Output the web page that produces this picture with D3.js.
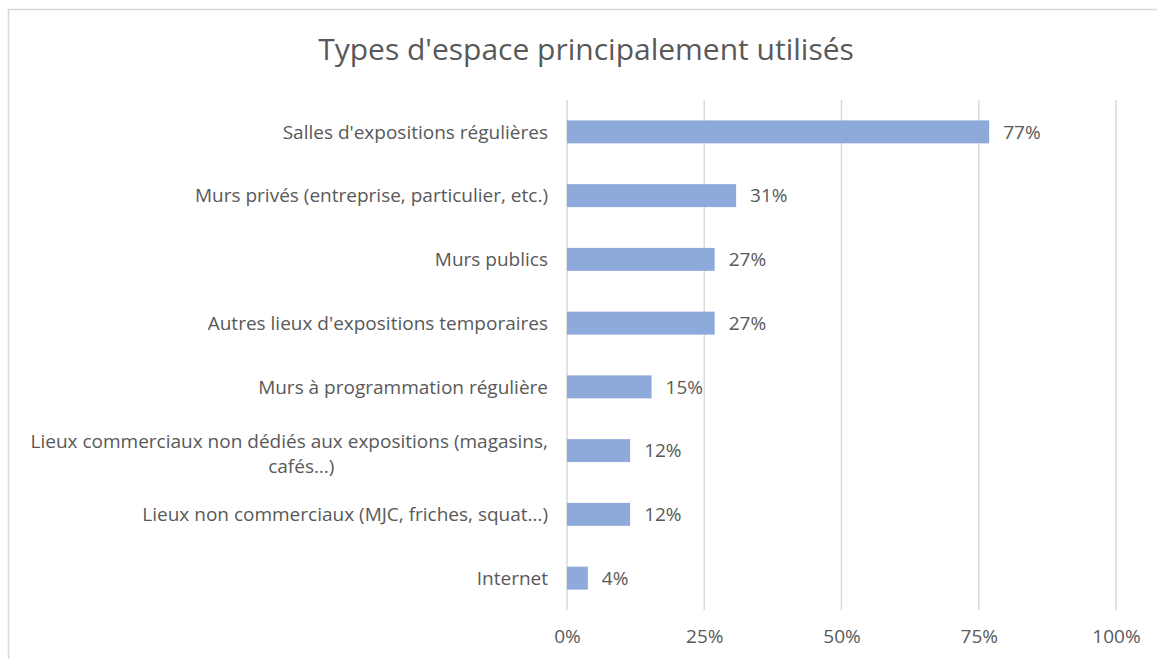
<!DOCTYPE html>
<html><head><meta charset="utf-8">
<script src="https://cdn.jsdelivr.net/npm/d3@7"></script>
<style>body{margin:0;background:#fff;} svg{display:block;}</style>
</head><body>
<svg id="c" width="1157" height="659"></svg>
<script>
const title = "Types d'espace principalement utilisés";
const categories = [
  "Salles d'expositions régulières",
  "Murs privés (entreprise, particulier, etc.)",
  "Murs publics",
  "Autres lieux d'expositions temporaires",
  "Murs à programmation régulière",
  "Lieux commerciaux non dédiés aux expositions (magasins, cafés…)",
  "Lieux non commerciaux (MJC, friches, squat…)",
  "Internet"
];
const values = [76.9, 30.8, 26.9, 26.9, 15.4, 11.5, 11.5, 3.8];
const tickValues = [0, 25, 50, 75, 100];

const svg = d3.select("#c");
const font = "Open Sans, sans-serif";
const txt = "#595959";
const fs = 19;
svg.append("rect").attr("x", 8.5).attr("y", 9.5).attr("width", 1170).attr("height", 670)
  .attr("fill", "#fff").attr("stroke", "#d9d9d9").attr("stroke-width", 1.5);

const x = d3.scaleLinear().domain([0, 100]).range([567, 1116]);
const y = d3.scaleBand().domain(categories).range([100, 610]).paddingInner(0.64).paddingOuter(0.32);

svg.append("text").attr("x", 586).attr("y", 60).attr("text-anchor", "middle")
  .attr("font-family", font).attr("font-size", 30).attr("fill", txt).text(title);

// gridlines
svg.append("g").selectAll("line").data(tickValues).join("line")
  .attr("x1", d => x(d)).attr("x2", d => x(d)).attr("y1", 100).attr("y2", 610)
  .attr("stroke", "#d9d9d9").attr("stroke-width", 1.5);

// x axis labels
const xAxis = d3.axisBottom(x).tickValues(tickValues).tickFormat(d => d + "%").tickSize(0).tickPadding(0);
const gx = svg.append("g").attr("transform", "translate(0,636)").call(xAxis);
gx.select(".domain").remove();
gx.selectAll("text").attr("font-family", font).attr("font-size", fs).attr("fill", txt).attr("dy", "0.35em");

// bars
svg.append("g").selectAll("rect").data(values).join("rect")
  .attr("x", x(0)).attr("y", (d, i) => y(categories[i]))
  .attr("width", d => x(d) - x(0)).attr("height", y.bandwidth())
  .attr("fill", "#8eaadb");

// value labels
svg.append("g").selectAll("text").data(values).join("text")
  .attr("x", d => x(d) + 14).attr("y", (d, i) => y(categories[i]) + y.bandwidth() / 2)
  .attr("dy", "0.35em").attr("font-family", font).attr("font-size", fs).attr("fill", txt)
  .text(d => Math.round(d) + "%");

// category labels
const gl = svg.append("g");
categories.forEach((c, i) => {
  const cy = y(c) + y.bandwidth() / 2;
  if (c.length > 50) {
    const parts = ["Lieux commerciaux non dédiés aux expositions (magasins,", "cafés…)"];
    const t1 = gl.append("text").attr("x", 548).attr("y", cy - 9).attr("dy", "0.35em")
      .attr("text-anchor", "end").attr("font-family", font).attr("font-size", fs).attr("fill", txt).text(parts[0]);
    const w = t1.node().getComputedTextLength();
    gl.append("text").attr("x", 548 - w / 2 + 12).attr("y", cy + 16).attr("dy", "0.35em")
      .attr("text-anchor", "middle").attr("font-family", font).attr("font-size", fs).attr("fill", txt).text(parts[1]);
  } else {
    gl.append("text").attr("x", 548).attr("y", cy).attr("dy", "0.35em")
      .attr("text-anchor", "end").attr("font-family", font).attr("font-size", fs).attr("fill", txt).text(c);
  }
});
</script>
</body></html>
